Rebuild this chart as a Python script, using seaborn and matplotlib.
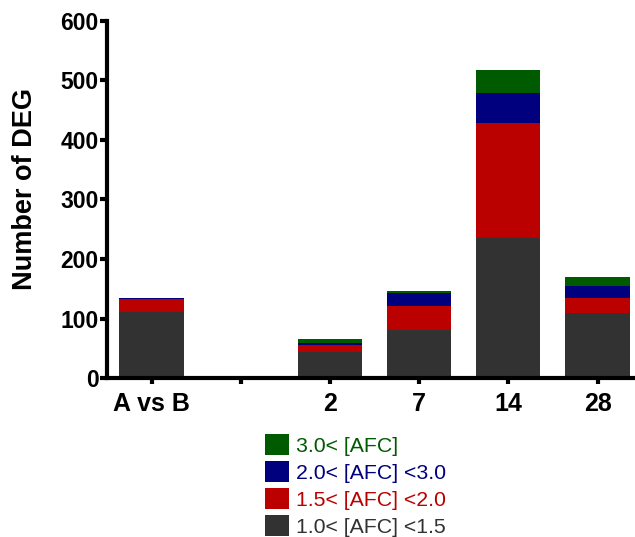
import matplotlib
matplotlib.use("Agg")
import matplotlib.pyplot as plt
import seaborn as sns
import pandas as pd
import numpy as np
from matplotlib.patches import Patch

# Groups on the x axis (the blank slot separates the comparison from the time points)
groups = ["A vs B", " ", "2", "7", "14", "28"]

# Number of DEG per fold-change class (blank slot has no data)
fc_1_0_1_5 = [111, np.nan, 43, 81, 236, 109]
fc_1_5_2_0 = [22, np.nan, 12, 40, 193, 25]
fc_2_0_3_0 = [1, np.nan, 4, 22, 50, 21]
fc_3_0_up = [1, np.nan, 6, 3, 38, 15]

class_labels = ["1.0< [AFC] <1.5", "1.5< [AFC] <2.0", "2.0< [AFC] <3.0", "3.0< [AFC]"]
class_colors = ["#323232", "#bb0000", "#00007f", "#005a00"]

yticks = [0, 100, 200, 300, 400, 500, 600]

sns.set_theme(style="white")
plt.rcParams["font.family"] = ["Liberation Sans", "DejaVu Sans"]
for key in ["text.color", "axes.labelcolor", "xtick.color", "ytick.color"]:
    plt.rcParams[key] = "black"

layers = [fc_1_0_1_5, fc_1_5_2_0, fc_2_0_3_0, fc_3_0_up]
df = pd.DataFrame({"group": groups})
cum = np.zeros(len(groups))
cum_cols = []
for i, vals in enumerate(layers):
    cum = cum + np.array(vals, dtype=float)
    name = f"cum{i}"
    df[name] = cum
    cum_cols.append(name)

fig = plt.figure(figsize=(6.35, 5.37), dpi=100)
ax = fig.add_axes([107 / 635, 159 / 537, 528 / 635, 357 / 537])

# Stacked bars: draw cumulative totals from the top layer down
for name, color in reversed(list(zip(cum_cols, class_colors))):
    sns.barplot(data=df, x="group", y=name, order=groups, color=color,
                width=0.72, saturation=1, ax=ax, errorbar=None, linewidth=0)

ax.set_xlim(-0.5, 5.42)
ax.set_ylim(0, 600)
ax.set_yticks(yticks)
ax.set_yticklabels([str(t) for t in yticks], fontsize=16.5, fontweight="bold")
ax.set_xticks(range(len(groups)))
ax.set_xticklabels(groups, fontsize=18, fontweight="bold")
ax.set_xlabel("")
ax.set_ylabel("Number of DEG", fontsize=19.5, fontweight="bold")
ax.yaxis.set_label_coords(-0.131, 0.53)

for side in ["top", "right"]:
    ax.spines[side].set_visible(False)
for side in ["left", "bottom"]:
    ax.spines[side].set_linewidth(3)
    ax.spines[side].set_color("black")

ax.tick_params(axis="y", direction="out", length=5, width=3, color="black", pad=1, left=True)
ax.tick_params(axis="x", direction="out", length=4, width=3, color="black", pad=6, bottom=True)

handles = [Patch(facecolor=c, edgecolor="none") for c in class_colors]
handles = handles[::-1]
labels = class_labels[::-1]
leg = fig.legend(handles, labels, loc="upper left",
                 bbox_to_anchor=(265 / 635, 1 - 434 / 537),
                 frameon=False, fontsize=15.3, handlelength=1.13, handleheight=1.13,
                 labelspacing=0.26, handletextpad=0.35, borderpad=0, borderaxespad=0,
                 labelcolor=class_colors[::-1])

fig.savefig("out.png", dpi=100)
